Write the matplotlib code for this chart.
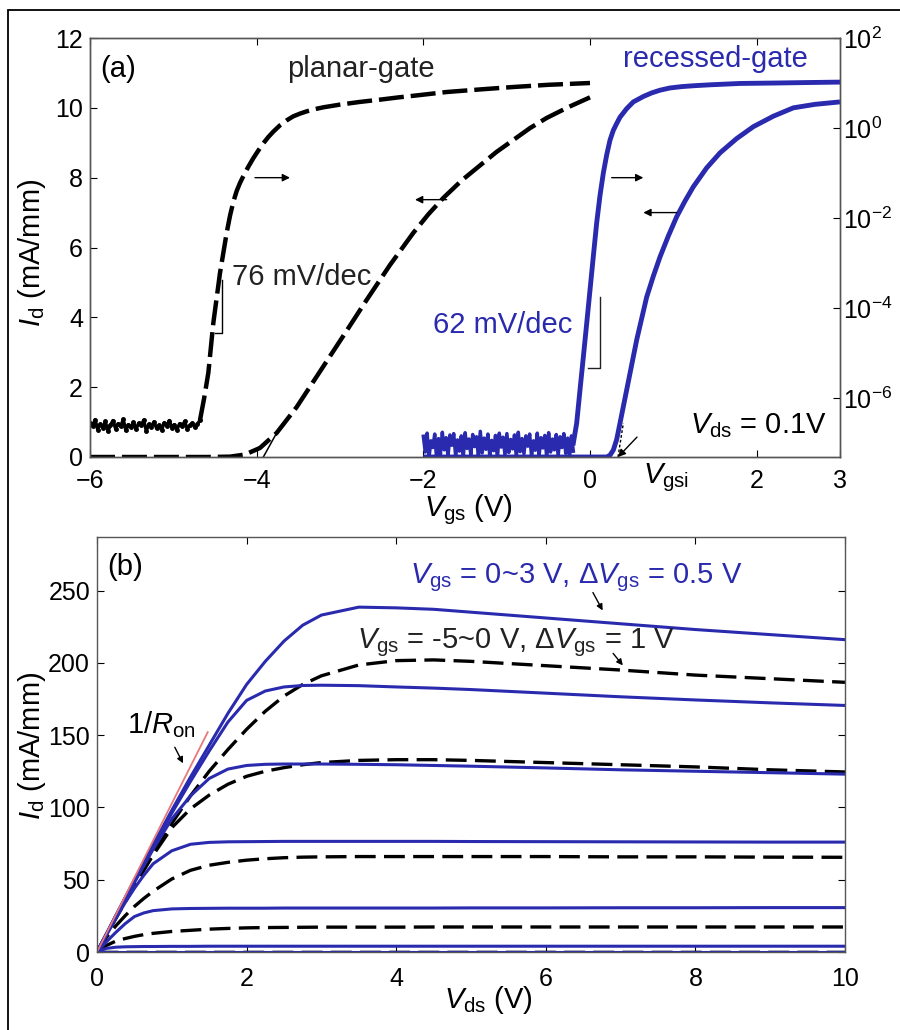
import numpy as np
import matplotlib
matplotlib.use('Agg')
import matplotlib.pyplot as plt
from matplotlib.patches import Rectangle
from matplotlib.ticker import NullLocator

plt.rcParams['font.family'] = ['Liberation Sans', 'DejaVu Sans']
plt.rcParams['mathtext.fontset'] = 'custom'
plt.rcParams['mathtext.rm'] = 'Liberation Sans'
plt.rcParams['mathtext.it'] = 'Liberation Sans:italic'
plt.rcParams['lines.scale_dashes'] = False

BLUE = '#2a2aae'

# ---- (a) transfer curves, Vds = 0.1 V ----
# planar gate, linear scale (mA/mm)
planar_lin_v = [-6.0, -4.6, -4.32, -4.14, -3.96, -3.76, -3.52, -3.24, -2.96, -2.68,
                -2.40, -2.12, -1.94, -1.76, -1.54, -1.32, -1.12, -0.92, -0.72, -0.52,
                -0.26, 0.0]
planar_lin_i = [0, 0, 0.01, 0.07, 0.26, 0.69, 1.43, 2.45, 3.47, 4.50,
                5.50, 6.42, 6.95, 7.42, 7.92, 8.35, 8.74, 9.08, 9.42, 9.71,
                10.02, 10.3]
# planar gate, log scale (exponent of mA/mm)
planar_log_v = [-4.68, -4.63, -4.58, -4.52, -4.44, -4.36, -4.32, -4.28, -4.24, -4.20,
                -4.16, -4.10, -4.04, -3.98, -3.92, -3.86, -3.80, -3.72, -3.64, -3.56,
                -3.48, -3.40, -3.30, -3.20, -3.10, -3.00, -2.76, -2.52, -2.30, -2.10,
                -1.72, -1.30, -0.93, -0.50, 0.00]
planar_log_e = [-6.49, -6.0, -5.44, -4.33, -3.22, -2.33, -1.95, -1.64, -1.40, -1.22,
                -1.07, -0.86, -0.67, -0.50, -0.34, -0.20, -0.08, 0.06, 0.17, 0.26,
                0.32, 0.37, 0.42, 0.46, 0.49, 0.52, 0.58, 0.63, 0.68, 0.72,
                0.80, 0.86, 0.91, 0.96, 1.0]
planar_noise_e = [-6.55, -6.62, -6.48, -6.70, -6.58, -6.66, -6.52, -6.74, -6.60, -6.50,
                  -6.68, -6.57, -6.63, -6.47, -6.72, -6.59, -6.65, -6.54, -6.69, -6.56,
                  -6.61, -6.49, -6.73, -6.58, -6.64, -6.53, -6.67, -6.60, -6.71, -6.55,
                  -6.62, -6.50, -6.66, -6.59, -6.70, -6.57, -6.63, -6.52, -6.68, -6.61,
                  -6.56, -6.65, -6.58, -6.49]
# recessed gate
recess_lin_v = [-2.0, 0.20, 0.24, 0.28, 0.32, 0.36, 0.44, 0.56, 0.68, 0.76,
                0.84, 0.94, 1.04, 1.14, 1.24, 1.40, 1.56, 1.76, 1.96, 2.20,
                2.44, 2.70, 3.0]
recess_lin_i = [0, 0, 0.05, 0.2, 0.5, 0.97, 1.92, 3.35, 4.58, 5.18,
                5.73, 6.33, 6.88, 7.33, 7.74, 8.28, 8.71, 9.12, 9.46, 9.76,
                10.0, 10.1, 10.17]
recess_log_v = [-0.20, -0.16, -0.12, -0.08, -0.04, 0.00, 0.04, 0.08, 0.12, 0.16,
                0.20, 0.24, 0.28, 0.32, 0.36, 0.44, 0.52, 0.64, 0.74, 0.84,
                0.96, 1.10, 1.25, 1.44, 1.80, 2.24, 2.60, 3.00]
recess_log_e = [-7.00, -6.56, -5.82, -5.09, -4.35, -3.60, -2.85, -2.11, -1.50, -1.00,
                -0.60, -0.27, -0.05, 0.10, 0.24, 0.43, 0.58, 0.70, 0.78, 0.84,
                0.89, 0.92, 0.94, 0.96, 0.99, 1.00, 1.01, 1.02]
recess_noise_e = [-6.85, -7.20, -6.78, -7.32, -6.95, -7.10, -6.80, -7.35, -6.90, -7.25,
                  -6.76, -7.15, -6.88, -7.30, -6.82, -7.05, -6.79, -7.28, -6.93, -7.18,
                  -6.84, -7.33, -6.77, -7.12, -6.91, -7.26, -6.81, -7.08, -6.86, -7.31,
                  -6.74, -7.22, -6.89, -7.14, -6.80, -7.29, -6.94, -7.17, -6.83, -7.34,
                  -6.78, -7.09, -6.87, -7.27, -6.79, -7.21, -6.92, -7.13, -6.82, -7.32,
                  -6.76, -7.19, -6.90, -7.24, -6.84, -7.07, -6.80, -7.30, -6.95, -7.16,
                  -6.78, -7.26, -6.88, -7.11, -6.83, -7.33, -6.77, -7.20, -6.91, -7.15,
                  -6.81, -7.28, -6.86, -7.10, -6.79, -7.23, -6.89, -7.31, -6.84, -7.18]

# ---- (b) output curves ----
vds = [0, 0.125, 0.25, 0.375, 0.5, 0.625, 0.75, 1.0, 1.25, 1.5, 1.75, 2.0, 2.25, 2.5,
       2.75, 3.0, 3.5, 4.0, 4.5, 5, 6, 7, 8, 9, 10]
recess_out = {
    3.0: [0, 12.5, 25, 37.5, 50, 62, 74, 98, 121, 143, 165, 185, 201, 215, 226, 233,
          238.5, 238, 237, 235, 231, 227, 223, 219.5, 216],
    2.5: [0, 12.5, 25, 37, 49, 61, 73, 96, 118, 139, 159, 174, 180.5, 183.3, 184.3, 184.5,
          184.2, 183.3, 182.5, 181.5, 179, 176.5, 174.3, 172.3, 170.5],
    2.0: [0, 12, 24, 36, 48, 59.5, 71, 92, 108, 120, 126.5, 129, 129.8, 130, 130, 130,
          129.8, 129.5, 129, 128.5, 127.3, 126, 125, 124, 123],
    1.5: [0, 11.5, 23, 34, 44, 53, 61, 70, 74.5, 75.8, 76.2, 76.3, 76.4, 76.5, 76.5, 76.5,
          76.5, 76.5, 76.5, 76.4, 76.3, 76.2, 76.1, 76, 76],
    1.0: [0, 7, 13.5, 19.5, 24.5, 27, 28.6, 29.8, 30.1, 30.2, 30.3, 30.3, 30.3, 30.4, 30.4,
          30.4, 30.4, 30.4, 30.4, 30.5, 30.5, 30.6, 30.6, 30.7, 30.7],
    0.5: [0, 2.5, 3.3, 3.6, 3.7, 3.8, 3.8, 3.9, 3.9, 4, 4, 4, 4, 4, 4, 4, 4, 4, 4, 4, 4,
          4, 4, 4, 4],
    0.0: [0] * 25,
}
planar_out = {
    0: [0, 11.5, 23, 34.5, 46, 57, 68, 89, 108, 125, 140, 154, 166.5, 177, 185, 191,
        198.5, 201.5, 202, 201, 198, 195, 191.5, 189, 186.5],
    -1: [0, 12, 24, 35, 46, 56.5, 67, 86, 99, 108.5, 116, 121.5, 125, 127.5, 129.5, 131,
         132.5, 133, 133, 132.5, 131, 129.5, 128, 126, 124.5],
    -2: [0, 10, 18, 25, 31.5, 37, 42, 50.5, 56.5, 60, 62, 63.5, 64.5, 65.2, 65.6, 65.8,
         66, 66, 66, 66, 66, 65.8, 65.8, 65.6, 65.5],
    -3: [0, 4.5, 7.5, 9.3, 10.8, 12, 12.9, 14.2, 15, 15.8, 16.3, 16.7, 16.9, 17, 17.1,
         17.2, 17.2, 17.2, 17.3, 17.3, 17.3, 17.3, 17.3, 17.3, 17.3],
    -4: [0] * 25,
    -5: [0] * 25,
}
ron_vds = [0, 1.48]
ron_id = [0, 152]

fig = plt.figure(figsize=(9, 10.3), dpi=100)
fig.patches.append(Rectangle((8 / 900, -0.05), 900 / 900, 1 - 10 / 1030 + 0.05,
                             transform=fig.transFigure, fill=False, ec='k', lw=1.3))

# ================= panel (a) =================
ax1 = fig.add_axes([90 / 900, 1 - 457 / 1030, 750 / 900, 419 / 1030])
ax1r = ax1.twinx()
dash_a = (18, 5)

ax1.plot(planar_lin_v, planar_lin_i, color='k', lw=3.2, dashes=dash_a)
ax1.plot(recess_lin_v, recess_lin_i, color=BLUE, lw=3.5, solid_capstyle='butt')

pn_v = np.linspace(-6.0, -4.68, len(planar_noise_e))
ax1r.plot(pn_v, 10 ** np.array(planar_noise_e), color='k', lw=2.4, marker='o', ms=2.5)
ax1r.plot(planar_log_v, 10 ** np.array(planar_log_e), color='k', lw=3.2, dashes=dash_a)
rn_v = np.linspace(-2.0, -0.2, len(recess_noise_e))
ax1r.plot(rn_v, 10 ** np.array(recess_noise_e), color=BLUE, lw=2.5)
ax1r.plot(recess_log_v, 10 ** np.array(recess_log_e), color=BLUE, lw=3.5)

ax1.set_xlim(-6, 3)
ax1.set_ylim(0, 12)
ax1r.set_yscale('log')
ax1r.set_ylim(10 ** -7.31, 1e2)
ax1.set_xticks([-6, -4, -2, 0, 2, 3])
ax1.set_yticks(range(0, 13, 2))
ax1r.set_yticks([1e-6, 1e-4, 1e-2, 1e0, 1e2])
ax1r.yaxis.set_minor_locator(NullLocator())
ax1.tick_params(direction='in', top=True, labelsize=18, length=5, pad=5)
ax1.tick_params(axis='x', pad=8.5)
ax1r.tick_params(direction='in', labelsize=18, length=5, pad=2)
for a in (ax1, ax1r):
    for s in a.spines.values():
        s.set_color('#555555')
        s.set_linewidth(1.0)

# tangent lines / slope brackets
ax1.plot([-3.92, -3.76], [0, 0.69], color='k', lw=1.1)
ax1.plot([0.336, 0.40], [0, 0.97], color='k', lw=1.0, ls=(0, (2, 1.5)))
ax1r.plot([-4.5, -4.416, -4.416], [10 ** -4.56, 10 ** -4.56, 10 ** -3.38], color='k', lw=1.0)
ax1r.plot([-0.024, 0.12, 0.12], [10 ** -5.33, 10 ** -5.33, 10 ** -3.76], color='#222222', lw=1.0)

arw = dict(arrowstyle='-|>', color='k', lw=1.0, mutation_scale=11, shrinkA=0, shrinkB=0)
ax1.annotate('', xy=(-3.6, 8.0), xytext=(-4.02, 8.0), arrowprops=arw)
ax1.annotate('', xy=(-2.1, 7.37), xytext=(-1.72, 7.37), arrowprops=arw)
ax1.annotate('', xy=(0.64, 8.0), xytext=(0.26, 8.0), arrowprops=arw)
ax1.annotate('', xy=(0.64, 7.0), xytext=(1.04, 7.0), arrowprops=arw)
ax1.annotate('', xy=(0.336, 0.0), xytext=(0.564, 0.57), arrowprops=arw, annotation_clip=False)

ax1.text(-5.88, 10.88, '(a)', fontsize=21, va='baseline')
ax1.text(-3.636, 10.88, 'planar-gate', fontsize=21, va='baseline', color='#222222')
ax1.text(0.396, 11.17, 'recessed-gate', fontsize=21, va='baseline', color=BLUE)
ax1.text(-4.296, 4.93, '76 mV/dec', fontsize=21, va='baseline', color='#222222')
ax1.text(-1.884, 3.55, '62 mV/dec', fontsize=21, va='baseline', color=BLUE)
ax1.text(1.2, 0.69, r'$V_\mathrm{ds}$ = 0.1V', fontsize=21, va='baseline')
ax1.text(0.636, -0.745, r'$V_\mathrm{gsi}$', fontsize=21, va='baseline', clip_on=False)

fig.text(468 / 900, 1 - 510 / 1030, r'$V_\mathrm{gs}$ (V)', fontsize=21, ha='center', va='center')
fig.text(32 / 900, 1 - 253 / 1030, r'$I_\mathrm{d}$ (mA/mm)', fontsize=21, ha='center',
         va='center', rotation=90)

# ================= panel (b) =================
ax2 = fig.add_axes([97 / 900, 1 - 952 / 1030, 748 / 900, 415 / 1030])
dash_b = (15, 6)
for vg in [-5, -4, -3, -2, -1, 0]:
    ax2.plot(vds, planar_out[vg], color='k', lw=2.4, dashes=dash_b)
for vg in [0.0, 0.5, 1.0, 1.5, 2.0, 2.5, 3.0]:
    ax2.plot(vds, recess_out[vg], color=BLUE, lw=2.2)
ax2.plot(ron_vds, ron_id, color='#e8787a', lw=1.3)

ax2.set_xlim(0, 10)
ax2.set_ylim(0, 287)
ax2.set_xticks(range(0, 11, 2))
ax2.set_yticks(range(0, 251, 50))
ax2.tick_params(direction='in', top=True, right=True, labelsize=18, length=5, pad=5)
ax2.tick_params(axis='x', pad=11)
for s in ax2.spines.values():
    s.set_color('#555555')
    s.set_linewidth(1.0)

ax2.text(0.134, 260.4, '(b)', fontsize=21, va='baseline')
ax2.text(4.18, 254.8, r'$V_\mathrm{gs}$ = 0~3 V, Δ$V_\mathrm{gs}$ = 0.5 V', fontsize=21,
         va='baseline', color=BLUE)
ax2.text(3.48, 210, r'$V_\mathrm{gs}$ = -5~0 V, Δ$V_\mathrm{gs}$ = 1 V', fontsize=21,
         va='baseline', color='#222222')
ax2.text(0.40, 151, r'1/$R_\mathrm{on}$', fontsize=21, va='baseline')
arw2 = dict(arrowstyle='-|>', color='k', lw=1.0, mutation_scale=9, shrinkA=0, shrinkB=0)
ax2.annotate('', xy=(6.76, 236.2), xytext=(6.63, 248.6), arrowprops=arw2)
ax2.annotate('', xy=(7.03, 198.2), xytext=(6.9, 206.5), arrowprops=arw2)
ax2.annotate('', xy=(1.15, 130.5), xytext=(1.04, 141.6), arrowprops=arw2)

fig.text(488 / 900, 1 - 1000 / 1030, r'$V_\mathrm{ds}$ (V)', fontsize=21, ha='center', va='center')
fig.text(32 / 900, 1 - 746 / 1030, r'$I_\mathrm{d}$ (mA/mm)', fontsize=21, ha='center',
         va='center', rotation=90)

fig.savefig('out.png', dpi=100)
